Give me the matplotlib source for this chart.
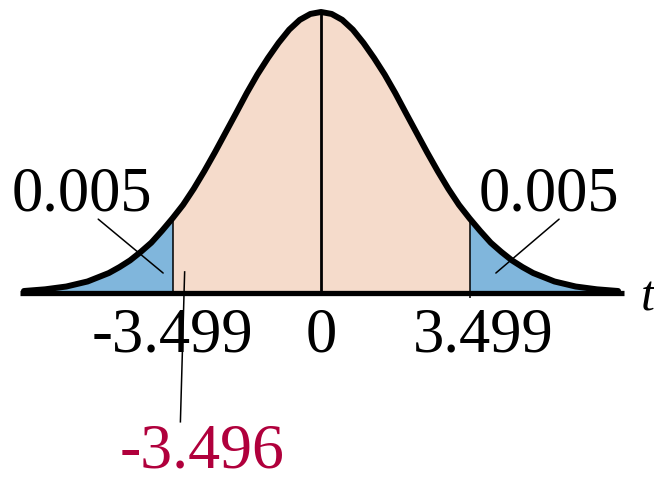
import numpy as np
import matplotlib.pyplot as plt
from matplotlib.transforms import ScaledTranslation

plt.rcParams['font.family'] = ['Liberation Serif', 'DejaVu Serif']

# t values and curve heights (peak = 1)
t_vals = [-7.0, -6.5, -6.0, -5.5, -5.0, -4.75, -4.5, -4.25, -4.0, -3.75, -3.499,
          -3.25, -3.0, -2.75, -2.5, -2.25, -2.0, -1.75, -1.5, -1.25, -1.0, -0.75,
          -0.5, -0.25, 0.0, 0.25, 0.5, 0.75, 1.0, 1.25, 1.5, 1.75, 2.0, 2.25, 2.5,
          2.75, 3.0, 3.25, 3.499, 3.75, 4.0, 4.25, 4.5, 4.75, 5.0, 5.5, 6.0, 6.5, 7.0]
heights = [0.006, 0.012, 0.022, 0.040, 0.070, 0.091, 0.115, 0.145, 0.178, 0.220, 0.265,
           0.313, 0.370, 0.433, 0.500, 0.570, 0.640, 0.711, 0.777, 0.836, 0.890, 0.937,
           0.972, 0.993, 1.000, 0.993, 0.972, 0.937, 0.890, 0.836, 0.777, 0.711, 0.640,
           0.570, 0.500, 0.433, 0.370, 0.313, 0.265, 0.220, 0.178, 0.145, 0.115, 0.091,
           0.070, 0.040, 0.022, 0.012, 0.006]

t_crit = 3.499
tail_area = "0.005"
tick_vals = [-3.499, 0, 3.499]
tick_labels = ["-3.499", "0", "3.499"]
computed_val = -3.496

BLUE = "#80b6dc"
PEACH = "#f5dbcb"
RED = "#b0003c"

t = np.array(t_vals)
h = np.array(heights)

fig = plt.figure(figsize=(6.54, 4.82), dpi=100)
ax = fig.add_axes([0, 0, 1, 1])
ax.set_xlim(-7.564, 7.846)
ax.set_ylim(-0.6744, 1.0427)
ax.axis('off')

# shaded areas
ax.fill_between(t, 0, h, where=(t >= -t_crit) & (t <= t_crit), color=PEACH, lw=0)
ax.fill_between(t, 0, h, where=t <= -t_crit, color=BLUE, lw=0)
ax.fill_between(t, 0, h, where=t >= t_crit, color=BLUE, lw=0)

# vertical lines at 0 and critical values
ax.vlines(0, 0, h[t == 0][0], color='black', lw=2.0)
ax.vlines(-t_crit, 0, h[t == -t_crit][0], color='black', lw=1.1)
ax.vlines(t_crit, -0.02, h[t == t_crit][0], color='black', lw=1.1)

# the curve and axis
ax.plot(t, h, color='black', lw=4.3, solid_capstyle='round', solid_joinstyle='round')
ax.hlines(0, -7.1, 7.14, color='black', lw=3.8)
ax.text(7.7, -0.02, "t", fontsize=36, style='italic', ha='center', va='center')

# tail labels with leader lines
ax.annotate("", xy=(-3.72, 0.070), xytext=(-5.25, 0.262),
            arrowprops=dict(arrowstyle='-', color='black', lw=1.1, shrinkA=0, shrinkB=0))
ax.annotate("", xy=(4.12, 0.070), xytext=(5.61, 0.262),
            arrowprops=dict(arrowstyle='-', color='black', lw=1.1, shrinkA=0, shrinkB=0))
ax.text(-5.63, 0.294, tail_area, fontsize=45, ha='center', va='baseline')
ax.text(5.37, 0.294, tail_area, fontsize=45, ha='center', va='baseline')

# tick labels
offsets = [0, 0, 10]
for val, lab, dx in zip(tick_vals, tick_labels, offsets):
    ax.annotate(lab, xy=(val, -0.211), xytext=(dx, 0), textcoords='offset points',
                fontsize=45, ha='center', va='baseline')

# computed value pointer, drawn a little right of the critical line
shift = ax.transData + ScaledTranslation(12 / 100, 0, fig.dpi_scale_trans)
ax.plot([computed_val, computed_val - 0.1], [0.074, -0.46], color='black', lw=1.1,
        transform=shift)
ax.annotate(f"{computed_val:.3f}", xy=(computed_val, -0.672), xytext=(21, 0),
            textcoords='offset points', fontsize=46, ha='center', va='bottom', color=RED)

fig.savefig("out.png", dpi=100)
